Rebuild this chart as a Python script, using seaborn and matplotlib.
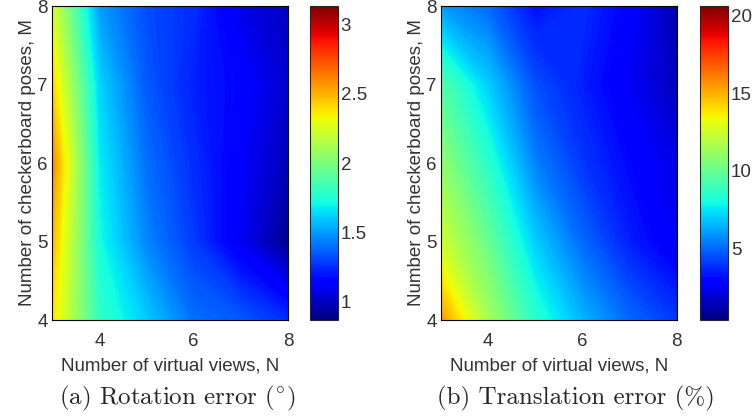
import numpy as np
import pandas as pd
import matplotlib
matplotlib.use("Agg")
import matplotlib.pyplot as plt
import seaborn as sns

sns.set_style("white")
plt.rcParams["font.family"] = ["Liberation Sans", "DejaVu Sans"]
plt.rcParams["mathtext.fontset"] = "cm"

# grid of the experiment
n_views = [3, 4, 5, 6, 7, 8]
m_poses = [4, 5, 6, 7, 8]

# rotation error (deg), rows = M (4..8), cols = N (3..8)
rot_err = [
    [2.38, 1.80, 1.60, 1.40, 1.35, 1.25],
    [2.48, 1.72, 1.45, 1.28, 1.10, 0.90],
    [2.60, 1.68, 1.40, 1.25, 1.12, 0.98],
    [2.42, 1.62, 1.35, 1.22, 1.15, 1.02],
    [2.25, 1.50, 1.32, 1.25, 1.08, 1.00],
]

# translation error (%), rows = M (4..8), cols = N (3..8)
trans_err = [
    [15.5, 11.5, 8.5, 6.5, 5.0, 4.0],
    [12.5, 10.0, 7.0, 5.0, 3.5, 2.5],
    [11.0, 8.5, 5.5, 4.0, 3.0, 2.2],
    [9.5, 7.0, 4.5, 3.5, 2.5, 1.5],
    [6.0, 5.0, 3.2, 3.8, 2.8, 1.2],
]

rot_ticks = [1, 1.5, 2, 2.5, 3]
trans_ticks = [5, 10, 15, 20]
rot_range = (0.87, 3.13)
trans_range = (0.4, 20.6)

captions = [r"(a) Rotation error ($^{\circ}$)", r"(b) Translation error (%)"]

# seaborn won't hand out jet, so take it from matplotlib
jet = matplotlib.colormaps["jet"]

fig = plt.figure(figsize=(7.56, 4.17), dpi=100)

panels = [
    (rot_err, rot_range, rot_ticks, 0.069, 0.410, 0.235),
    (trans_err, trans_range, trans_ticks, 0.583, 0.926, 0.762),
]

fs = 13.5

for (vals, (vmin, vmax), cticks, axl, cbl, capx), cap in zip(panels, captions):
    df = pd.DataFrame(vals, index=m_poses, columns=n_views)
    X, Y = np.meshgrid(df.columns.values, df.index.values)
    ax = fig.add_axes([axl, 0.2326, 0.312, 0.753])
    cax = fig.add_axes([cbl, 0.2326, 0.037, 0.753])
    levels = np.linspace(vmin, vmax, 150)
    ax.contourf(X, Y, df.values, levels=levels, cmap=jet,
                vmin=vmin, vmax=vmax, extend="both")
    ax.set_xlim(3, 8)
    ax.set_ylim(4, 8)
    ax.set_xticks([4, 6, 8])
    ax.set_yticks([4, 5, 6, 7, 8])
    ax.tick_params(direction="in", labelsize=fs, length=3, pad=3,
                   top=True, right=True, colors="#333333")
    ax.tick_params(axis="x", pad=9)
    ax.set_xlabel("Number of virtual views, N", fontsize=fs, labelpad=6,
                  color="#333333")
    ax.set_ylabel("Number of checkerboard poses, M", fontsize=fs, labelpad=1,
                  color="#333333")
    for sp in ax.spines.values():
        sp.set_color("black")
        sp.set_linewidth(0.8)

    sm = plt.cm.ScalarMappable(cmap=jet, norm=plt.Normalize(vmin, vmax))
    cb = fig.colorbar(sm, cax=cax)
    cb.set_ticks(cticks)
    cb.set_ticklabels([("%g" % t) for t in cticks])
    cax.tick_params(direction="in", labelsize=fs, length=3, left=True,
                    pad=2, colors="#333333")
    cb.outline.set_linewidth(0.8)

    fig.text(capx, 0.045, cap, ha="center", va="center", fontsize=18,
             family=["cmr10", "DejaVu Serif"])

plt.savefig("out.png", dpi=100)
